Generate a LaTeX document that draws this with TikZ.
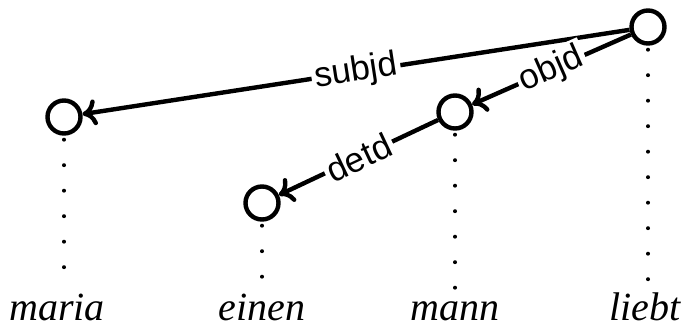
\documentclass[tikz,border=0pt]{standalone}
\usepackage{fontspec}
\setmainfont{Liberation Serif}
\setsansfont{Liberation Sans}
\usetikzlibrary{arrows.meta}
\begin{document}
\begin{tikzpicture}[x=1pt, y=1pt,
  tok/.style={draw, line width=4.4pt, circle, minimum size=33pt, inner sep=0pt},
  word/.style={font=\fontsize{40}{44}\selectfont\itshape, anchor=base, inner sep=0pt},
  dep/.style={line width=4.4pt, -{To[length=14pt, width=26pt]}},
  lab/.style={font=\sffamily\fontsize{35}{38}\selectfont, fill=white, sloped, midway, inner sep=3pt},
  proj/.style={line width=4pt, line cap=round, dash pattern=on 0pt off 25.5pt}]
  \useasboundingbox (0,0) rectangle (682,330);
  \node[tok] (maria) at (64,213) {};
  \node[tok] (einen) at (262,127) {};
  \node[tok] (mann) at (455,218) {};
  \node[tok] (liebt) at (648,303) {};
  \node[word] (w1) at (57,10) {maria};
  \node[word] (w2) at (262,10) {einen};
  \node[word] (w3) at (455,10) {mann};
  \node[word] (w4) at (645,10) {liebt};
  % projection lines
  \draw[proj] (maria.south) ++(0,-4) -- (64,40);
  \draw[proj] (einen.south) ++(0,-4) -- (262,40);
  \draw[proj] (mann.south) ++(0,-4) -- (455,40);
  \draw[proj] (liebt.south) ++(0,-4) -- (648,40);
  % dependencies
  \draw[dep] (liebt) -- (maria) node[lab] {subjd};
  \draw[dep] (liebt) -- (mann) node[lab] {objd};
  \draw[dep] (mann) -- (einen) node[lab] {detd};
\end{tikzpicture}
\end{document}
